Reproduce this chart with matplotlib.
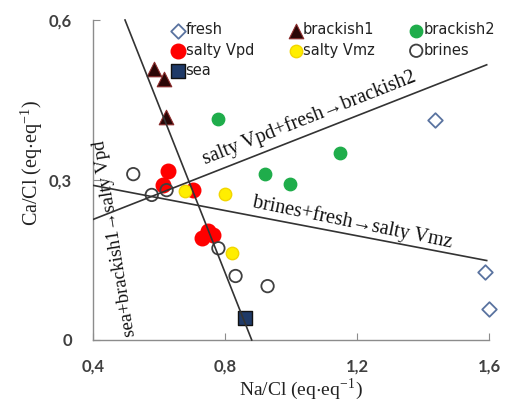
import matplotlib
matplotlib.use("Agg")
import matplotlib.pyplot as plt

plt.rcParams['mathtext.fontset'] = 'stix'

# ---- data ----
fresh_x = [1.436, 1.588, 1.601]
fresh_y = [0.412, 0.128, 0.059]
brackish1_x = [0.586, 0.616, 0.621]
brackish1_y = [0.509, 0.489, 0.419]
brackish2_x = [0.780, 1.148, 0.922, 0.997]
brackish2_y = [0.414, 0.351, 0.312, 0.292]
salty_vpd_x = [0.628, 0.613, 0.704, 0.729, 0.749, 0.765]
salty_vpd_y = [0.316, 0.290, 0.281, 0.192, 0.204, 0.197]
salty_vmz_x = [0.679, 0.800, 0.820]
salty_vmz_y = [0.279, 0.273, 0.163]
brines_x = [0.522, 0.578, 0.623, 0.780, 0.832, 0.929]
brines_y = [0.311, 0.272, 0.281, 0.172, 0.120, 0.101]
sea_x = [0.861]
sea_y = [0.041]

# mixing lines
line_sea_x = [0.497, 0.881]
line_sea_y = [0.600, 0.000]
line_vpd_x = [0.400, 1.593]
line_vpd_y = [0.226, 0.516]
line_vmz_x = [0.400, 1.593]
line_vmz_y = [0.290, 0.149]

x_ticks = [0.4, 0.8, 1.2, 1.6]
x_ticklabels = ["0,4", "0,8", "1,2", "1,6"]
y_ticks = [0, 0.3, 0.6]
y_ticklabels = ["0", "0,3", "0,6"]

W, H = 507, 403
fig = plt.figure(figsize=(W / 100, H / 100), dpi=100)
ax = fig.add_axes([93 / W, (H - 340) / H, (489 - 93) / W, (340 - 20) / H])
ax.set_xlim(0.4, 1.6)
ax.set_ylim(0, 0.6)

ms = 80
ax.scatter(fresh_x, fresh_y, marker='D', s=55, facecolor='white',
           edgecolor='#5a73a0', linewidth=1.3, label='fresh', clip_on=False, zorder=3)
ax.scatter(brackish1_x, brackish1_y, marker='^', s=110, facecolor='#2a0606',
           edgecolor='#8a2a2a', linewidth=0.8, label='brackish1', zorder=3)
ax.scatter(brackish2_x, brackish2_y, marker='o', s=ms, facecolor='#1fad4b',
           edgecolor='#1fad4b', label='brackish2', zorder=3)
ax.scatter(salty_vpd_x, salty_vpd_y, marker='o', s=110, facecolor='#ff0000',
           edgecolor='#ff0000', label='salty Vpd', zorder=3)
ax.scatter(salty_vmz_x, salty_vmz_y, marker='o', s=ms, facecolor='#ffee00',
           edgecolor='#f2d600', label='salty Vmz', zorder=3)
ax.scatter(brines_x, brines_y, marker='o', s=ms, facecolor='none',
           edgecolor='#404040', linewidth=1.3, label='brines', zorder=3)
ax.scatter(sea_x, sea_y, marker='s', s=90, facecolor='#1f3a68',
           edgecolor='#111111', linewidth=1.0, label='sea', zorder=3)

lc = '#333333'
ax.plot(line_sea_x, line_sea_y, color=lc, lw=1.2, zorder=4, clip_on=False)
ax.plot(line_vpd_x, line_vpd_y, color=lc, lw=1.2, zorder=4)
ax.plot(line_vmz_x, line_vmz_y, color=lc, lw=1.2, zorder=4)

serif = 'Liberation Serif'
ax.text(1.055, 0.416, 'salty Vpd+fresh\u2192brackish2', family=serif, fontsize=14.5,
        rotation=21.5, ha='center', va='center', color='#111111')
ax.text(1.185, 0.221, 'brines+fresh\u2192salty Vmz', family=serif, fontsize=14.5,
        rotation=-11.5, ha='center', va='center', color='#111111')
ax.text(0.466, 0.191, 'sea+brackish1\u2192salty Vpd', family=serif, fontsize=13.5,
        rotation=99, ha='center', va='center', color='#111111')

# axes styling
for s in ['top', 'right']:
    ax.spines[s].set_visible(False)
for s in ['left', 'bottom']:
    ax.spines[s].set_color('#8c8c8c')
    ax.spines[s].set_linewidth(1.0)
ax.set_xticks(x_ticks)
ax.set_xticklabels(x_ticklabels)
ax.set_yticks(y_ticks)
ax.set_yticklabels(y_ticklabels)
ax.tick_params(axis='both', direction='in', length=5, color='#8c8c8c', labelcolor='#404040',
               labelsize=12)
ax.tick_params(axis='x', pad=13)
ax.tick_params(axis='y', pad=15)
for lab in ax.get_xticklabels() + ax.get_yticklabels():
    lab.set_family('Lato')
    lab.set_fontweight('bold')

fig.text(301 / W, 1 - 389 / H, r'Na/Cl (eq$\cdot$eq$^{\mathregular{-1}}$)', family=serif,
         fontsize=14, ha='center', va='center', color='#222222')
fig.text(32 / W, 1 - 163 / H, r'Ca/Cl (eq$\cdot$eq$^{\mathregular{-1}}$)', family=serif,
         fontsize=14.5, ha='center', va='center', rotation=90, color='#222222')

handles, labels = ax.get_legend_handles_labels()
order = ['fresh', 'salty Vpd', 'sea', 'brackish1', 'salty Vmz', 'brackish2', 'brines']
hmap = dict(zip(labels, handles))
leg = ax.legend([hmap[k] for k in order], order, ncol=3, frameon=False,
                loc='upper left', bbox_to_anchor=((166 - 93) / 396, 1.015),
                prop={'family': 'DejaVu Sans', 'size': 10.5},
                handlelength=0.7, handletextpad=0.15, columnspacing=2.5,
                labelspacing=0.35, borderpad=0, scatterpoints=1)
for t in leg.get_texts():
    t.set_color('#222222')

fig.savefig('out.png', dpi=100)
